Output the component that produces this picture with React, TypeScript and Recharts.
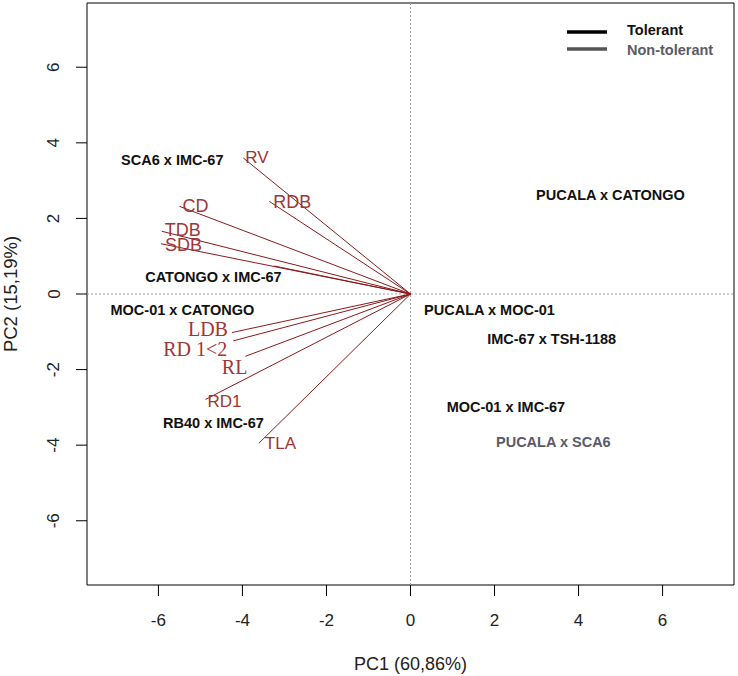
// PCA biplot: PC1 vs PC2 with variable loadings (dark red rays) and cross labels.

import {
  Legend,
  ReferenceArea,
  ReferenceLine,
  Scatter,
  ScatterChart,
  XAxis,
  YAxis,
} from 'recharts'

const ticks = [-6, -4, -2, 0, 2, 4, 6]
const domain: [number, number] = [-7.7, 7.7]

// variable loadings (arrow tips)
const varNames = ['RV', 'RDB', 'CD', 'TDB', 'SDB', '', 'LDB', 'RD 1<2', 'RL', 'RD1', 'TLA']
const varPC1 = [-3.98, -3.36, -5.5, -5.92, -5.94, -3.24, -4.25, -4.22, -3.93, -4.88, -3.61]
const varPC2 = [3.6, 2.45, 2.32, 1.66, 1.33, 0.74, -1.02, -1.24, -1.65, -2.79, -3.95]

// crosses (label centres)
const sampleNames = [
  'SCA6 x IMC-67',
  'CATONGO x IMC-67',
  'MOC-01 x CATONGO',
  'RB40 x IMC-67',
  'PUCALA x CATONGO',
  'PUCALA x MOC-01',
  'IMC-67 x TSH-1188',
  'MOC-01 x IMC-67',
  'PUCALA x SCA6',
]
const samplePC1 = [-5.67, -4.69, -5.43, -4.69, 4.76, 1.88, 3.36, 2.27, 3.4]
const samplePC2 = [3.55, 0.45, -0.42, -3.42, 2.63, -0.42, -1.18, -3.0, -3.92]
const sampleGroup = [
  'Tolerant',
  'Tolerant',
  'Tolerant',
  'Tolerant',
  'Tolerant',
  'Tolerant',
  'Tolerant',
  'Tolerant',
  'Non-tolerant',
]

const groups = ['Tolerant', 'Non-tolerant']

const groupColor: Record<string, string> = {
  Tolerant: '#111',
  'Non-tolerant': '#5a5a68',
}

// where each loading label sits relative to its tip
const SANS = '"Liberation Sans", Arial, sans-serif'
const SERIF = '"Liberation Serif", "Times New Roman", serif'
const labelPlace: Record<string, { anchor: string; dx: number; dy: number; font: string; size: number }> = {
  RV: { anchor: 'start', dx: 2, dy: 0, font: SANS, size: 17 },
  RDB: { anchor: 'start', dx: 4, dy: 1, font: SANS, size: 18 },
  CD: { anchor: 'start', dx: 3, dy: 0, font: SANS, size: 18 },
  TDB: { anchor: 'start', dx: 3, dy: -1, font: SANS, size: 18 },
  SDB: { anchor: 'start', dx: 4, dy: 1, font: SANS, size: 18 },
  LDB: { anchor: 'end', dx: -4, dy: -4, font: SERIF, size: 20 },
  'RD 1<2': { anchor: 'end', dx: -6, dy: 8, font: SERIF, size: 20 },
  RL: { anchor: 'end', dx: 2, dy: 11, font: SERIF, size: 20 },
  RD1: { anchor: 'start', dx: 2, dy: 2, font: SANS, size: 17 },
  TLA: { anchor: 'start', dx: 6, dy: 0, font: SANS, size: 17 },
}

const loadings = varNames.map((name, i) => ({ name, x: varPC1[i], y: varPC2[i] }))
const samples = sampleNames.map((name, i) => ({
  name,
  x: samplePC1[i],
  y: samplePC2[i],
  group: sampleGroup[i],
}))

const RAY = '#8b1a1a'
const RAY_TEXT = '#9e3636'

function LoadingLabel(props: any) {
  const { cx, cy, payload } = props
  const p = labelPlace[payload.name]
  if (!p) return <g />
  return (
    <text
      x={cx + p.dx}
      y={cy + p.dy}
      textAnchor={p.anchor as any}
      dominantBaseline="central"
      fontFamily={p.font}
      fontSize={p.size}
      fill={RAY_TEXT}
    >
      {payload.name}
    </text>
  )
}

function SampleLabel(props: any) {
  const { cx, cy, payload } = props
  return (
    <text
      x={cx}
      y={cy}
      textAnchor="middle"
      dominantBaseline="central"
      fontFamily={SANS}
      fontWeight="bold"
      fontSize={14.5}
      fill={groupColor[payload.group]}
    >
      {payload.name}
    </text>
  )
}

function XTick(props: any) {
  const { x, payload } = props
  return (
    <text x={x} y={626} textAnchor="middle" fontFamily={SANS} fontSize={17} fill="#222">
      {payload.value}
    </text>
  )
}

function YTick(props: any) {
  const { y, payload } = props
  const cx = 54
  return (
    <text
      x={cx}
      y={y}
      transform={`rotate(-90, ${cx}, ${y})`}
      textAnchor="middle"
      dominantBaseline="central"
      fontFamily={SANS}
      fontSize={17}
      fill="#222"
    >
      {payload.value}
    </text>
  )
}

function LegendBox() {
  return (
    <svg width={170} height={48}>
      {groups.map((g, i) => (
        <g key={g}>
          <line
            x1={7}
            x2={47}
            y1={17 + i * 17}
            y2={17 + i * 17}
            stroke={g === 'Tolerant' ? '#000' : '#555'}
            strokeWidth={3.5}
          />
          <text
            x={67}
            y={14.5 + i * 20.5}
            dominantBaseline="central"
            fontFamily={SANS}
            fontWeight="bold"
            fontSize={14.5}
            fill={g === 'Tolerant' ? '#111' : '#5a5a68'}
          >
            {g}
          </text>
        </g>
      ))}
    </svg>
  )
}

export default function App() {
  return (
    <div style={{ position: 'absolute', left: 0, top: 0, width: 738, height: 676, background: '#fff' }}>
      <ScatterChart width={738} height={676} margin={{ top: 3, right: 4, left: 0, bottom: 0 }}>
        <XAxis
          type="number"
          dataKey="x"
          domain={domain}
          ticks={ticks}
          allowDataOverflow
          axisLine={false}
          tickLine={{ stroke: '#000' }}
          tickSize={11}
          tick={<XTick />}
          height={91}
          label={{
            value: 'PC1 (60,86%)',
            position: 'insideBottom',
            offset: 6,
            style: { fontFamily: SANS, fontSize: 18, fill: '#222' },
          }}
        />
        <YAxis
          type="number"
          dataKey="y"
          domain={domain}
          ticks={ticks}
          allowDataOverflow
          axisLine={false}
          tickLine={{ stroke: '#000' }}
          tickSize={11}
          tick={<YTick />}
          width={87}
          label={{
            value: 'PC2 (15,19%)',
            angle: -90,
            position: 'insideLeft',
            offset: 10,
            style: { fontFamily: SANS, fontSize: 18.5, fill: '#222', textAnchor: 'middle' },
          }}
        />
        <ReferenceArea
          x1={domain[0]}
          x2={domain[1]}
          y1={domain[0]}
          y2={domain[1]}
          fill="none"
          fillOpacity={0}
          stroke="#000"
          strokeWidth={1}
        />
        <ReferenceLine x={0} stroke="#a0a0a0" strokeDasharray="2 2" />
        <ReferenceLine y={0} stroke="#a0a0a0" strokeDasharray="2 2" />
        {loadings.map((l) => (
          <ReferenceLine
            key={`ray-${l.name}-${l.x}`}
            segment={[
              { x: 0, y: 0 },
              { x: l.x, y: l.y },
            ]}
            stroke={RAY}
            strokeWidth={1}
          />
        ))}
        <Scatter data={loadings} shape={<LoadingLabel />} isAnimationActive={false} />
        <Scatter data={samples} shape={<SampleLabel />} isAnimationActive={false} />
        <Legend
          layout="horizontal"
          verticalAlign="middle"
          content={() => <LegendBox />}
          wrapperStyle={{ left: 560, top: 15, width: 170, height: 48 }}
        />
      </ScatterChart>
    </div>
  )
}
